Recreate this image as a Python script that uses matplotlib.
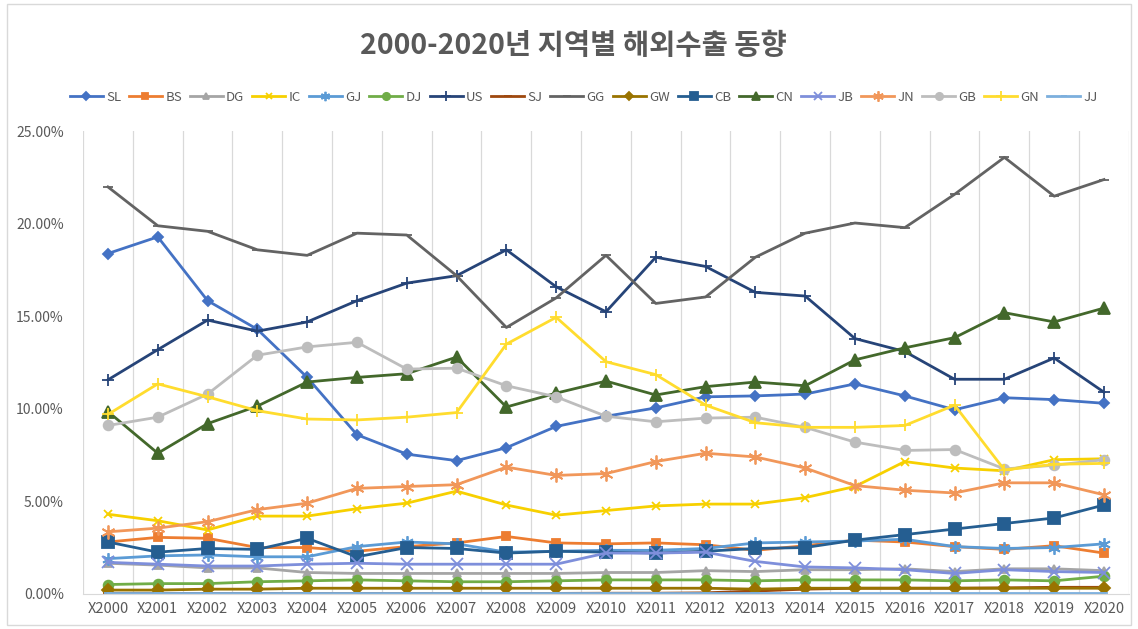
import numpy as np
import matplotlib
matplotlib.use('Agg')
import matplotlib.pyplot as plt
from matplotlib.patches import Rectangle
from matplotlib.ticker import FuncFormatter, MultipleLocator

plt.rcParams['font.family'] = ['Noto Sans CJK KR', 'DejaVu Sans']

YEARS = list(range(2000, 2021))
XLABELS = ['X%d' % y for y in YEARS]

# share of overseas exports per region (%)
SL = [18.4, 19.3, 15.85, 14.3, 11.7, 8.6, 7.55, 7.2, 7.9, 9.05, 9.6, 10.05, 10.65, 10.7, 10.8, 11.35, 10.7, 9.95, 10.6, 10.5, 10.3]
BS = [2.8, 3.05, 3.0, 2.5, 2.5, 2.3, 2.55, 2.75, 3.1, 2.75, 2.7, 2.75, 2.65, 2.35, 2.6, 2.9, 2.8, 2.55, 2.4, 2.6, 2.2]
DG = [1.65, 1.55, 1.4, 1.4, 1.15, 1.1, 1.1, 1.1, 1.1, 1.1, 1.15, 1.15, 1.25, 1.2, 1.3, 1.3, 1.35, 1.2, 1.35, 1.35, 1.25]
IC = [4.3, 3.95, 3.45, 4.2, 4.2, 4.6, 4.9, 5.55, 4.8, 4.25, 4.5, 4.75, 4.85, 4.85, 5.2, 5.8, 7.15, 6.8, 6.65, 7.25, 7.3]
GJ = [1.9, 2.05, 2.1, 2.0, 2.0, 2.55, 2.8, 2.7, 2.25, 2.3, 2.35, 2.35, 2.45, 2.75, 2.8, 2.85, 2.95, 2.55, 2.45, 2.5, 2.7]
DJ = [0.5, 0.55, 0.55, 0.65, 0.7, 0.75, 0.7, 0.65, 0.65, 0.7, 0.75, 0.75, 0.75, 0.7, 0.75, 0.75, 0.75, 0.7, 0.75, 0.7, 0.95]
US = [11.57, 13.2, 14.8, 14.2, 14.7, 15.85, 16.8, 17.2, 18.6, 16.6, 15.25, 18.2, 17.7, 16.3, 16.1, 13.8, 13.1, 11.6, 11.6, 12.75, 10.9]
SJ = [0.02, 0.02, 0.02, 0.02, 0.02, 0.02, 0.02, 0.02, 0.02, 0.02, 0.03, 0.03, 0.05, 0.15, 0.25, 0.3, 0.3, 0.3, 0.32, 0.35, 0.35]
GG = [22.0, 19.9, 19.6, 18.6, 18.3, 19.5, 19.4, 17.2, 14.4, 16.0, 18.3, 15.7, 16.05, 18.2, 19.5, 20.05, 19.8, 21.6, 23.6, 21.5, 22.4]
GW = [0.2, 0.2, 0.25, 0.25, 0.3, 0.3, 0.3, 0.3, 0.3, 0.3, 0.3, 0.3, 0.3, 0.25, 0.3, 0.3, 0.3, 0.3, 0.3, 0.3, 0.3]
CB = [2.8, 2.25, 2.45, 2.4, 3.0, 2.0, 2.5, 2.45, 2.2, 2.3, 2.25, 2.2, 2.3, 2.45, 2.5, 2.9, 3.2, 3.5, 3.8, 4.1, 4.8]
CN = [9.85, 7.6, 9.2, 10.15, 11.45, 11.7, 11.9, 12.8, 10.1, 10.85, 11.5, 10.75, 11.2, 11.45, 11.25, 12.65, 13.3, 13.85, 15.2, 14.7, 15.45]
JB = [1.7, 1.6, 1.5, 1.5, 1.6, 1.65, 1.6, 1.6, 1.6, 1.6, 2.2, 2.2, 2.25, 1.75, 1.45, 1.4, 1.3, 1.1, 1.3, 1.2, 1.15]
JN = [3.35, 3.55, 3.9, 4.55, 4.9, 5.7, 5.8, 5.9, 6.85, 6.4, 6.5, 7.15, 7.6, 7.4, 6.8, 5.85, 5.6, 5.45, 6.0, 6.0, 5.35]
GB = [9.1, 9.55, 10.8, 12.9, 13.35, 13.6, 12.15, 12.2, 11.25, 10.65, 9.6, 9.3, 9.5, 9.55, 9.0, 8.2, 7.75, 7.8, 6.75, 6.95, 7.25]
GN = [9.7, 11.35, 10.65, 9.9, 9.45, 9.4, 9.55, 9.8, 13.5, 14.95, 12.55, 11.85, 10.2, 9.25, 9.0, 9.0, 9.1, 10.2, 6.7, 7.0, 7.05]
JJ = [0.05] * 21

series = [
    ('SL', SL, '#4472C4', 'D', 5),
    ('BS', BS, '#ED7D31', 's', 6),
    ('DG', DG, '#A5A5A5', '^', 6),
    ('IC', IC, '#F7D000', 'x', 6),
    ('GJ', GJ, '#5B9BD5', (6, 2, 0), 9),
    ('DJ', DJ, '#70AD47', 'o', 7),
    ('US', US, '#264478', '+', 9),
    ('SJ', SJ, '#9E480E', '_', 7),
    ('GG', GG, '#636363', '_', 7),
    ('GW', GW, '#997300', 'D', 6),
    ('CB', CB, '#255E91', 's', 8),
    ('CN', CN, '#43682B', '^', 8),
    ('JB', JB, '#7E8FDB', 'x', 8),
    ('JN', JN, '#F1975A', (6, 2, 0), 10),
    ('GB', GB, '#BDBDBD', 'o', 7),
    ('GN', GN, '#FFDC2E', '+', 9),
    ('JJ', JJ, '#7CAFDD', '_', 6),
]

fig = plt.figure(figsize=(11.38, 6.29), dpi=100)
ax = fig.add_axes([0.073, 0.056, 0.919, 0.735])

x = np.arange(len(YEARS))
for name, vals, color, marker, ms in series:
    ax.plot(x, np.array(vals) / 100, color=color, lw=2.0, marker=marker,
            markersize=ms, markeredgewidth=1.3, markeredgecolor=color,
            markerfacecolor=color, label=name)

ax.set_xlim(-0.5, len(YEARS) - 0.5)
ax.set_ylim(0, 0.25)
ax.set_xticks(x)
ax.set_xticklabels(XLABELS, fontsize=10.5, color='#595959')
ax.xaxis.set_minor_locator(MultipleLocator(1, offset=0.5))
ax.grid(which='minor', axis='x', color='#D9D9D9', lw=0.9)
ax.yaxis.set_major_locator(MultipleLocator(0.05))
ax.yaxis.set_major_formatter(FuncFormatter(lambda v, p: '%.2f%%' % (v * 100)))
ax.tick_params(axis='y', labelsize=10, colors='#595959', length=0, pad=14)
ax.tick_params(axis='x', which='both', length=0, pad=6)
for s in ['top', 'right', 'left']:
    ax.spines[s].set_visible(False)
ax.spines['bottom'].set_color('#D9D9D9')

fig.text(0.504, 0.927, '2000-2020년 지역별 해외수출 동향', ha='center', va='center',
         fontsize=20.5, fontweight='bold', color='#595959')

fig.legend(loc='center', bbox_to_anchor=(0.513, 0.845), ncol=17, frameon=False,
           fontsize=9.5, handlelength=2.5, columnspacing=0.6, handletextpad=0.25,
           labelcolor='#595959', markerscale=0.75)

fig.patches.append(Rectangle((0.006, 0.006), 0.988, 0.988, transform=fig.transFigure,
                             fill=False, edgecolor='#D9D9D9', lw=1))

fig.savefig('out.png', dpi=100, facecolor='white')
